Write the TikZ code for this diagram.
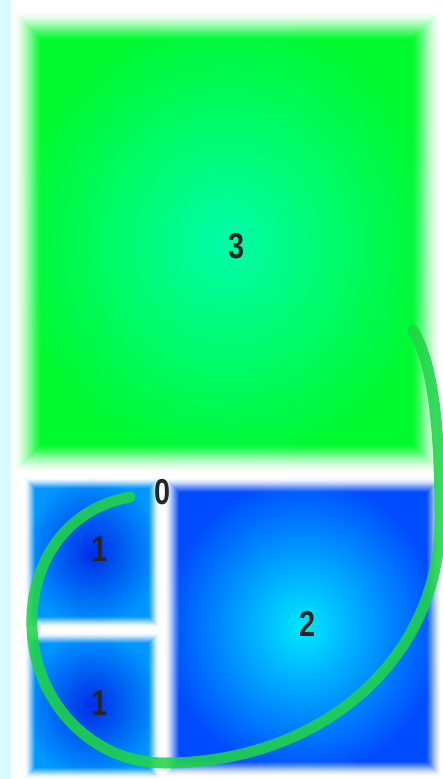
\documentclass[tikz,border=0pt]{standalone}
\usepackage{fontspec}
\setmainfont{Liberation Sans}
\definecolor{bgcyan}{RGB}{214,250,255}
\definecolor{sqgreen}{RGB}{0,250,45}
\definecolor{sqmint}{RGB}{0,252,170}
\definecolor{sqblue}{RGB}{0,75,255}
\definecolor{sqdeep}{RGB}{0,45,232}
\definecolor{sqsky}{RGB}{0,150,255}
\definecolor{sqcyan}{RGB}{0,232,255}
\definecolor{spiralgreen}{RGB}{32,212,72}
\usetikzlibrary{positioning}
% soft white edge drawn inwards from the border of a square node
\newcommand\glowframe[2]{%
  \foreach \i [evaluate=\i as \op using (1-\i/#2)^1.4] in {0,...,#2}
    \draw[white, line width=1.4pt, draw opacity=\op]
      ([shift={(\i,\i)}]#1.north west) rectangle ([shift={(-\i,-\i)}]#1.south east);}

\begin{document}
\begin{tikzpicture}[x=1pt, y=-1pt,
    sqbox/.style={rectangle, inner sep=0pt, outer sep=0pt, shading=radial},
    numlbl/.style={font=\fontsize{36}{36}\selectfont\bfseries, text=black!85, xscale=0.8, inner sep=0pt}
  ]
    \useasboundingbox (0,0) rectangle (442,779);
    \fill[white] (0,0) rectangle (442,779);
    \fill[bgcyan] (0,0) rectangle (11,779);

    % Squares
    \node[sqbox, minimum width=430pt, minimum height=464pt,
      inner color=sqmint, outer color=sqgreen]            (sq3)  at (227,242)   {};
    \node[sqbox, minimum width=136pt, minimum height=151pt,
      inner color=sqdeep, outer color=sqsky]              (sq1a) at (92,552.5)  {};
    \node[sqbox, minimum width=136pt, minimum height=147pt,
      inner color=sqdeep, outer color=sqsky]              (sq1b) at (92,705.5)  {};
    \node[sqbox, minimum width=278pt, minimum height=300pt,
      inner color=sqcyan, outer color=sqblue]             (sq2)  at (303,627)   {};

    \glowframe{sq3}{30}
    \glowframe{sq1a}{12}
    \glowframe{sq1b}{12}
    \glowframe{sq2}{16}

    % Spiral
    \draw[spiralgreen, line width=11pt, line cap=round, opacity=0.88]
      (130,497) .. controls (60,510) and (30,570) .. (32,627)
      .. controls (34,700) and (90,763) .. (165,763)
      .. controls (320,763) and (440,660) .. (440,520)
      .. controls (440,420) and (432,362) .. (413,330);

    % Numbers
    \node[numlbl] (n3)  at (237,246) {3};
    \node[numlbl] (n0)  at (163,492) {0};
    \node[numlbl] (n1a) at (100,549) {1};
    \node[numlbl] (n1b) at (100,703) {1};
    \node[numlbl] (n2)  at (308,624) {2};
  \end{tikzpicture}
\end{document}
